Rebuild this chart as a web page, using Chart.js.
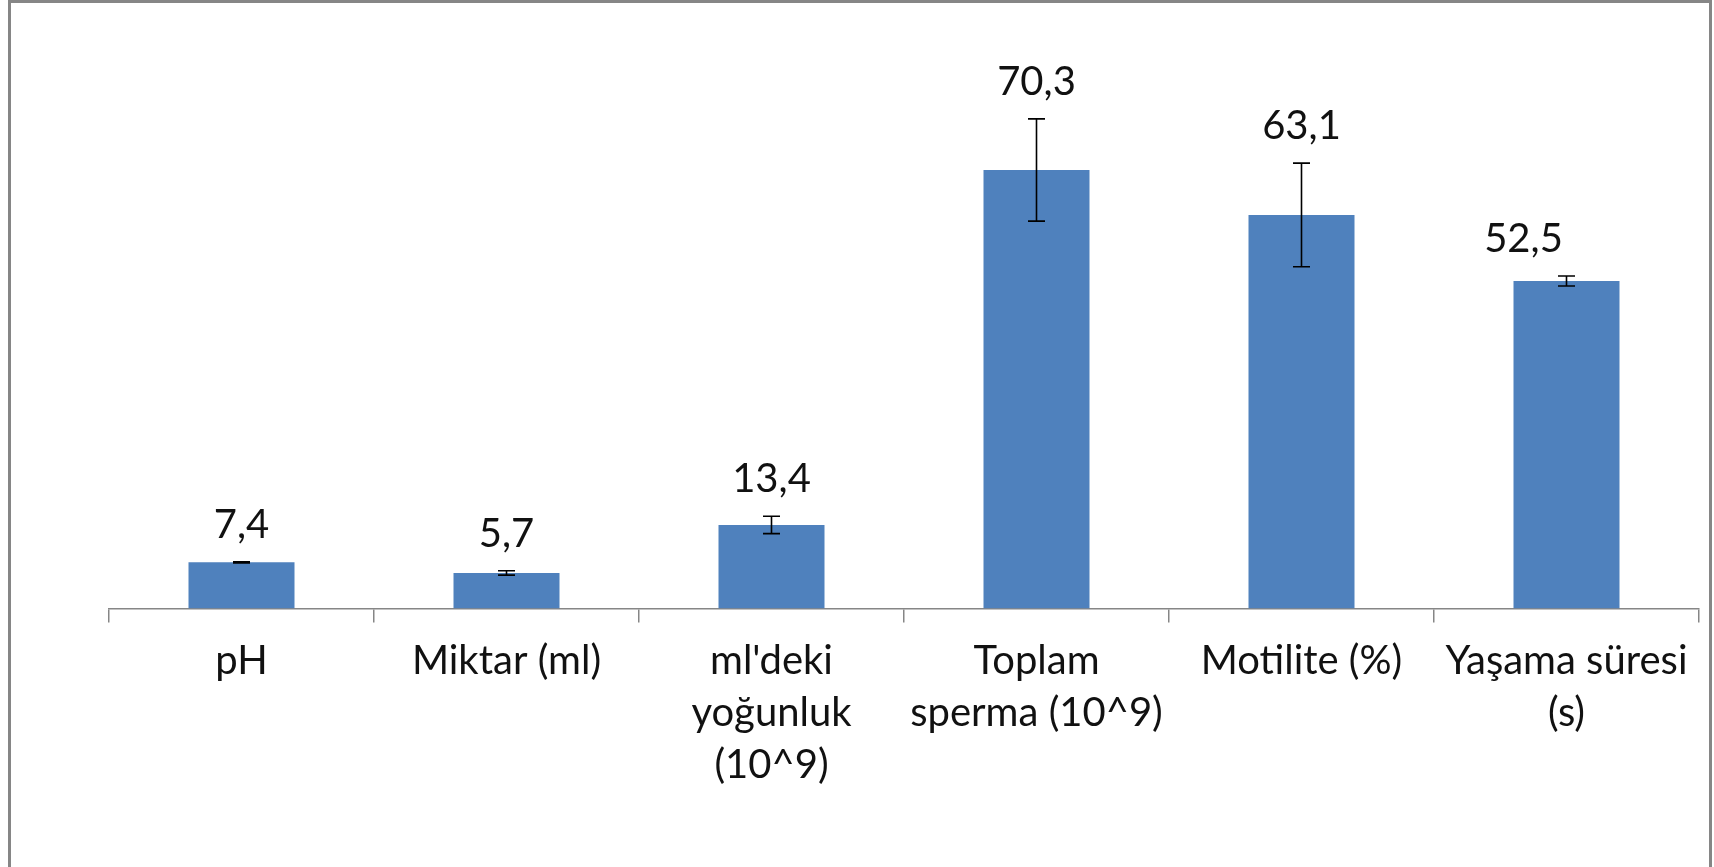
<!DOCTYPE html>
<html>
<head>
<meta charset="utf-8">
<script src="https://cdn.jsdelivr.net/npm/chart.js@4"></script>
<style>
  html, body { margin: 0; padding: 0; background: #fff; }
  #wrap { position: relative; width: 1714px; height: 867px; }
  #frame {
    position: absolute; left: 8px; top: 0; width: 1698px; height: 864px;
    border: 3px solid #868686; pointer-events: none;
  }
</style>
</head>
<body>
<div id="wrap">
  <canvas id="chart" width="1714" height="867"></canvas>
  <div id="frame"></div>
</div>
<script>
const categories = [
  'pH',
  'Miktar (ml)',
  ["ml'deki", 'yoğunluk', '(10^9)'],
  ['Toplam', 'sperma (10^9)'],
  'Motilite (%)',
  ['Yaşama süresi', '(s)']
];
const means = [7.4, 5.7, 13.4, 70.3, 63.1, 52.5];
const errors = [0.1, 0.35, 1.4, 8.2, 8.3, 0.8];

const FONT = 'Lato, "Open Sans", sans-serif';

// error bars + value labels drawn on top of the bars
const errorBars = {
  id: 'errorBars',
  afterDatasetsDraw(chart, args, opts) {
    const ctx = chart.ctx;
    const meta = chart.getDatasetMeta(0);
    const y = chart.scales.y;
    ctx.save();
    meta.data.forEach((bar, i) => {
      const top = y.getPixelForValue(means[i] + errors[i]);
      const bot = y.getPixelForValue(means[i] - errors[i]);
      ctx.strokeStyle = '#000';
      ctx.lineWidth = 1.6;
      ctx.beginPath();
      ctx.moveTo(bar.x, top); ctx.lineTo(bar.x, bot);
      ctx.moveTo(bar.x - 8.5, top); ctx.lineTo(bar.x + 8.5, top);
      ctx.moveTo(bar.x - 8.5, bot); ctx.lineTo(bar.x + 8.5, bot);
      ctx.stroke();

      const shift = (opts.labelShift && opts.labelShift[i]) || 0;
      ctx.fillStyle = '#111';
      ctx.font = '40px ' + FONT;
      ctx.textAlign = 'center';
      ctx.textBaseline = 'middle';
      ctx.fillText(means[i].toFixed(1).replace('.', ','), bar.x + shift, top - 37);
    });
    ctx.restore();
  }
};

new Chart(document.getElementById('chart'), {
  type: 'bar',
  data: {
    labels: categories,
    datasets: [{
      data: means,
      backgroundColor: '#4F81BD',
      borderWidth: 0,
      barPercentage: 0.4,
      categoryPercentage: 1
    }]
  },
  options: {
    responsive: false,
    animation: false,
    layout: { padding: { left: 109, right: 15, top: 109.5, bottom: 0 } },
    plugins: {
      legend: { display: false },
      tooltip: { enabled: false },
      errorBars: { labelShift: { 5: -43 } }
    },
    scales: {
      x: {
        offset: true,
        grid: {
          offset: true,
          drawOnChartArea: false,
          tickLength: 14,
          color: '#868686',
          lineWidth: 1.5
        },
        border: { display: true, color: '#868686', width: 1.5 },
        ticks: {
          color: '#111',
          font: { family: FONT, size: 40, lineHeight: 1.31 },
          padding: 12,
          maxRotation: 0,
          autoSkip: false
        },
        afterFit(scale) { scale.height = 867 - 608.5; }
      },
      y: { display: false, min: 0, max: 80 }
    }
  },
  plugins: [errorBars]
});
</script>
</body>
</html>
